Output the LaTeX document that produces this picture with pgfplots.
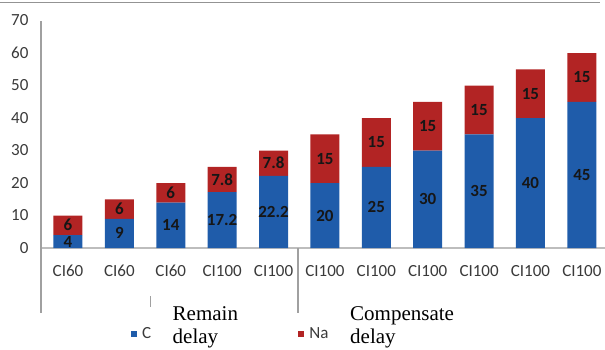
\documentclass[border=0pt]{standalone}
\usepackage{fontspec}
\setmainfont{Carlito}
\newfontfamily\serifnote{Liberation Serif}
\usepackage{pgfplots}
\pgfplotsset{compat=1.18}
\usepackage{pgfplotstable}

\definecolor{remainblue}{HTML}{1F5CAA}
\definecolor{compred}{HTML}{B22424}
\definecolor{yaxisgray}{HTML}{A0A0A0}
\definecolor{xaxisgray}{HTML}{BDBDBD}
\definecolor{ticktext}{HTML}{3A3A3A}
\definecolor{valtext}{HTML}{161616}

% remaining delay and compensating delay per cycle
\pgfplotstableread{
idx remain compensate
0   4      6
1   9      6
2   14     6
3   17.2   7.8
4   22.2   7.8
5   20     15
6   25     15
7   30     15
8   35     15
9   40     15
10  45     15
}\delays

% shared geometry of the bar axis and the label overlay
\pgfplotsset{
  delayframe/.style={
    at={(41pt,101pt)}, anchor=south west,
    scale only axis, width=564pt, height=227.5pt,
    xmin=-0.525, xmax=10.45, ymin=0, ymax=70,
    /pgf/number format/assume math mode=true,
  },
}

\begin{document}
\begin{tikzpicture}[x=1pt,y=1pt]
\begin{axis}[
  delayframe,
  ybar stacked, bar width=29pt,
  ytick={0,10,...,70},
  xtick={0,...,10},
  xticklabels={CI60,CI60,CI60,CI100,CI100,CI100,CI100,CI100,CI100,CI100,CI100},
  axis x line*=bottom, axis y line*=left,
  x axis line style={xaxisgray, line width=1.2pt, -},
  y axis line style={yaxisgray, line width=1.2pt, -},
  major tick length=0pt,
  tick label style={font=\fontsize{17}{17}\selectfont, text=ticktext},
  yticklabel style={xshift=-9pt},
  xticklabel style={anchor=base, yshift=-28pt},
  legend columns=2,
  legend style={at={(0.1596,-0.378)}, anchor=west, draw=none, fill=none,
    inner sep=0pt, font=\fontsize{17}{17}\selectfont, text=ticktext,
    /tikz/every even column/.append style={column sep=145pt}},
  legend image code/.code={\fill[#1] (0pt,-3pt) rectangle (6pt,3pt); \path (9pt,0pt);},
]
\addplot[fill=remainblue, draw=none]
  table[x=idx, y=remain] {\delays};
\addlegendentry{C}
\addplot[fill=compred, draw=none]
  table[x=idx, y=compensate] {\delays};
\addlegendentry{Na}
\end{axis}

% value labels centred in each bar segment
\begin{axis}[
  delayframe, hide axis,
  nodes near coords, point meta=explicit,
  every node near coord/.append style={anchor=center,
    font=\fontsize{17}{17}\selectfont\bfseries, text=valtext},
]
\addplot[draw=none, mark=none]
  table[x=idx, y expr=\thisrow{remain}/2, meta=remain] {\delays};
\addplot[draw=none, mark=none]
  table[x=idx, y expr=\thisrow{remain}+\thisrow{compensate}/2, meta=compensate] {\delays};
\end{axis}

% category group separators below the axis
\draw[yaxisgray, line width=1.2pt] (41,101) -- (41,36);
\draw[yaxisgray, line width=1.2pt] (298,101) -- (298,36);
\draw[yaxisgray, line width=1pt] (150.7,53) -- (150.7,42);
% frame line along the top
\draw[gray!85, line width=1.6pt] (0,346.5) -- (600,346.5);

% series notes
\node[anchor=base west, inner sep=0pt, font=\serifnote\fontsize{21}{24}\selectfont] at (172.5,29) {Remain};
\node[anchor=base west, inner sep=0pt, font=\serifnote\fontsize{21}{24}\selectfont] at (172.5,5.7) {delay};
\node[anchor=base west, inner sep=0pt, font=\serifnote\fontsize{21}{24}\selectfont] at (350,29) {Compensate};
\node[anchor=base west, inner sep=0pt, font=\serifnote\fontsize{21}{24}\selectfont] at (350,5.7) {delay};

\pgfresetboundingbox
\path[use as bounding box] (0,0) rectangle (605,349);
\end{tikzpicture}
\end{document}
